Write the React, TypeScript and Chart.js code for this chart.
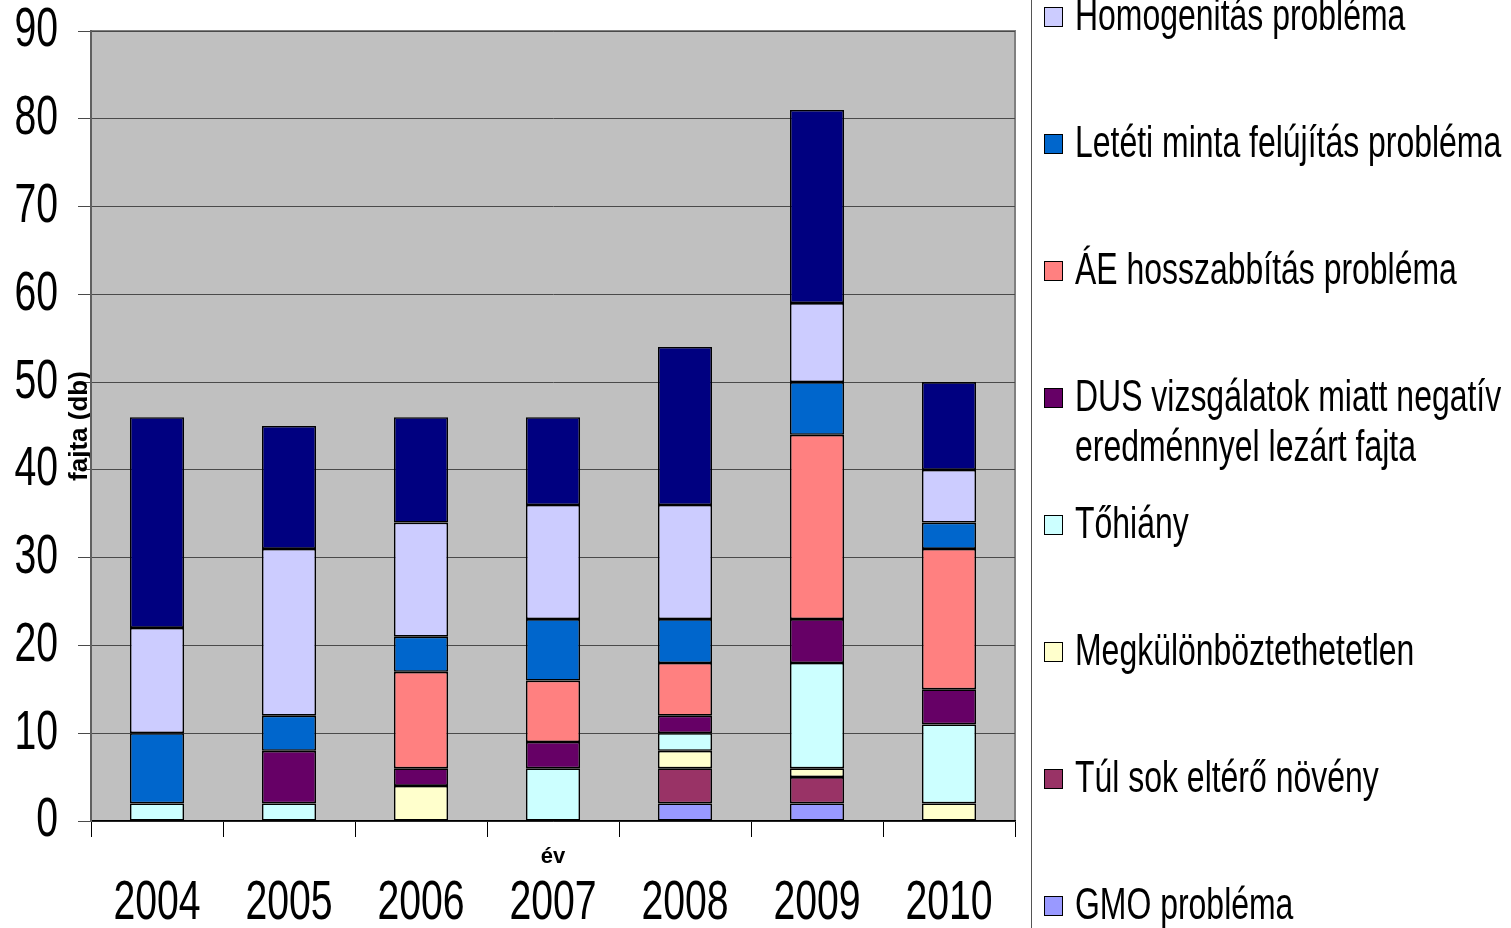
import React, { useEffect, useRef } from 'react';
import { Chart, registerables } from 'chart.js';

Chart.register(...registerables);

// ---- data ----
const YEARS = ['2004', '2005', '2006', '2007', '2008', '2009', '2010'];
const GMO_PROBLEMA = [0, 0, 0, 0, 2, 2, 0];
const TUL_SOK_ELTERO = [0, 0, 0, 0, 4, 3, 0];
const MEGKULONBOZTETHETETLEN = [0, 0, 4, 0, 2, 1, 2];
const TOHIANY = [2, 2, 0, 6, 2, 12, 9];
const DUS_NEGATIV = [0, 6, 2, 3, 2, 5, 4];
const AE_HOSSZABBITAS = [0, 0, 11, 7, 6, 21, 16];
const LETETI_MINTA = [8, 4, 4, 7, 5, 6, 3];
const HOMOGENITAS = [12, 19, 13, 13, 13, 9, 6];
const EGYEB = [24, 14, 12, 10, 18, 22, 10];
const Y_TICKS = [0, 10, 20, 30, 40, 50, 60, 70, 80, 90];

// bottom-to-top stacking order
const SERIES = [
  { label: 'GMO probléma', data: GMO_PROBLEMA, color: '#9999FF' },
  { label: 'Túl sok eltérő növény', data: TUL_SOK_ELTERO, color: '#993366' },
  { label: 'Megkülönböztethetetlen', data: MEGKULONBOZTETHETETLEN, color: '#FFFFCC' },
  { label: 'Tőhiány', data: TOHIANY, color: '#CCFFFF' },
  { label: 'DUS vizsgálatok miatt negatív eredménnyel lezárt fajta', data: DUS_NEGATIV, color: '#660066' },
  { label: 'ÁE hosszabbítás probléma', data: AE_HOSSZABBITAS, color: '#FF8080' },
  { label: 'Letéti minta felújítás probléma', data: LETETI_MINTA, color: '#0066CC' },
  { label: 'Homogenitás probléma', data: HOMOGENITAS, color: '#CCCCFF' },
  { label: 'Egyéb', data: EGYEB, color: '#000080' },
];

const NARROW_MARK = 'NarrowMark';
const NARROW_FACTOR = 0.7;
const NARROW = `${NARROW_MARK}, 'Liberation Sans', Arial, sans-serif`;
const SANS = "'Liberation Sans', Arial, sans-serif";

const W = 1511;
const H = 928;
const PLOT_LEFT = 91;
const PLOT_RIGHT = 1015;
const PLOT_TOP = 31;
const PLOT_BOTTOM = 821;

const plotBg = {
  id: 'plotBg',
  beforeDraw(chart: any) {
    const { ctx, chartArea } = chart;
    const { left, top, right, bottom } = chartArea;
    ctx.save();
    ctx.fillStyle = '#C0C0C0';
    ctx.fillRect(left, top, right - left, bottom - top);
    ctx.strokeStyle = '#808080';
    ctx.lineWidth = 2;
    ctx.beginPath();
    ctx.moveTo(left, top);
    ctx.lineTo(right, top);
    ctx.lineTo(right, bottom);
    ctx.stroke();
    ctx.restore();
  },
};

export default function App() {
  const ref = useRef<HTMLCanvasElement | null>(null);

  useEffect(() => {
    const canvas = ref.current;
    if (!canvas) return;
    const ctx2d = canvas.getContext('2d') as any;
    const origFillText = ctx2d.fillText;
    // narrow (Arial Narrow-like) rendering for fonts tagged with NARROW_MARK
    ctx2d.fillText = function (text: string, x: number, y: number, maxWidth?: number) {
      if (typeof this.font === 'string' && this.font.indexOf(NARROW_MARK) !== -1) {
        this.save();
        this.translate(x, y);
        this.scale(NARROW_FACTOR, 1);
        if (maxWidth !== undefined) origFillText.call(this, text, 0, 0, maxWidth / NARROW_FACTOR);
        else origFillText.call(this, text, 0, 0);
        this.restore();
      } else if (maxWidth !== undefined) {
        origFillText.call(this, text, x, y, maxWidth);
      } else {
        origFillText.call(this, text, x, y);
      }
    };

    const chart = new Chart(canvas, {
      type: 'bar',
      data: {
        labels: YEARS,
        datasets: SERIES.map((s) => ({
          label: s.label,
          data: s.data.map((v) => (v === 0 ? null : v)),
          backgroundColor: s.color,
          borderColor: '#000000',
          borderWidth: 1.6,
          borderSkipped: false,
          categoryPercentage: 1,
          barPercentage: 0.41,
        })),
      },
      options: {
        responsive: false,
        animation: false,
        devicePixelRatio: 1,
        layout: { padding: { top: PLOT_TOP, right: W - PLOT_RIGHT, left: 0, bottom: 0 } },
        plugins: { legend: { display: false }, tooltip: { enabled: false } },
        scales: {
          x: {
            stacked: true,
            grid: { display: true, drawOnChartArea: false, drawTicks: true, tickLength: 16, color: '#000000', offset: true },
            border: { color: '#000000', width: 1.5 },
            ticks: { font: { family: NARROW, size: 56 }, color: '#000000', padding: 33, maxRotation: 0, minRotation: 0, autoSkip: false },
            title: { display: true, text: 'év', font: { family: SANS, size: 22, weight: 'bold' }, color: '#000000', padding: { top: 0, bottom: 58 } },
            afterFit: (scale: any) => {
              scale.height = H - PLOT_BOTTOM;
              scale.paddingLeft = 0;
              scale.paddingRight = 0;
            },
          },
          y: {
            stacked: true,
            min: 0,
            max: 90,
            afterBuildTicks: (scale: any) => { scale.ticks = Y_TICKS.map((v) => ({ value: v })); },
            ticks: { font: { family: NARROW, size: 56 }, color: '#000000', padding: 20 },
            grid: { color: '#4a4a4a', tickLength: 13, lineWidth: 1 },
            border: { color: '#606060', width: 2 },
            title: { display: true, text: 'fajta (db)', font: { family: SANS, size: 26, weight: 'bold' }, color: '#000000', padding: { top: 64, bottom: 0 } },
            afterFit: (scale: any) => {
              scale.width = PLOT_LEFT;
              scale.paddingTop = 0;
              scale.paddingBottom = 0;
            },
          },
        },
      },
      plugins: [plotBg],
    } as any);
    return () => {
      chart.destroy();
      ctx2d.fillText = origFillText;
    };
  }, []);

  const legendItems = SERIES.slice(0, 8).reverse();

  return (
    <div style={{ position: 'absolute', left: 0, top: 0, width: W, height: H, background: '#fff', overflow: 'hidden' }}>
      <canvas ref={ref} width={W} height={H} style={{ position: 'absolute', left: 0, top: 0, width: W, height: H }} />
      <div style={{ position: 'absolute', left: 1031, top: 0, width: 1, height: H, background: '#555' }} />
      {legendItems.map((s, i) => {
        const center = 17 + i * 127;
        return (
          <div key={s.label} style={{ position: 'absolute', left: 1044, top: center - 27, width: W - 1044, height: 100 }}>
            <div style={{ position: 'absolute', left: 0, top: 17, width: 17, height: 18, background: s.color, border: '1.5px solid #000' }} />
            <div
              style={{
                position: 'absolute',
                left: 31,
                top: 0,
                width: 625,
                fontFamily: SANS,
                fontSize: 45,
                lineHeight: '50px',
                color: '#000',
                transform: `scaleX(0.71)`,
                transformOrigin: 'left top',
              }}
            >
              {s.label}
            </div>
          </div>
        );
      })}
    </div>
  );
}
